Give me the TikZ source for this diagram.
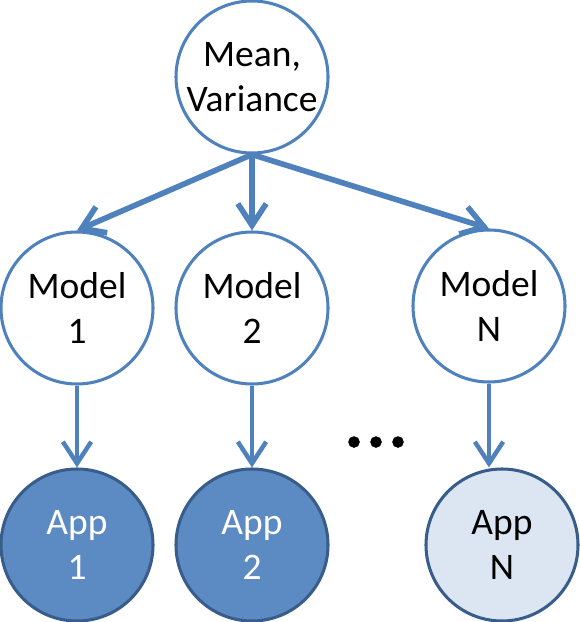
\documentclass[tikz,border=0pt]{standalone}
\usepackage{fontspec}
\setmainfont{Carlito}
\usetikzlibrary{arrows.meta}
\definecolor{lineblue}{RGB}{79,129,189}
\definecolor{appblue}{RGB}{92,138,194}
\definecolor{appedge}{RGB}{56,93,138}
\definecolor{applight}{RGB}{220,230,242}
\tikzset{bubble/.style={circle,minimum size=4.56cm,inner sep=0pt,line width=2.6pt,align=center,font=\fontsize{32}{38.5}\selectfont}}
\tikzset{model/.style={bubble,draw=lineblue,fill=white}}
\tikzset{appdark/.style={bubble,draw=appedge,fill=appblue,text=white}}
\tikzset{applite/.style={bubble,draw=appedge,fill=applight}}
\tikzset{arr/.style={draw=lineblue,line width=3.8pt,-{Straight Barb[length=0.65cm,width=0.85cm]}}}

\begin{document}
\begin{tikzpicture}[x=0.03cm,y=-0.03cm]
	\useasboundingbox (0,0) rectangle (579,622);
	% define the nodes at pixel coordinates
	\node [model] (mv) at (252,77) {Mean,\\Variance};
	\node [model] (m1) at (77,308) {Model\\1};
	\node [model] (m2) at (252,308) {Model\\2};
	\node [model] (mN) at (489,306) {Model\\N};
	\node [appdark] (a1) at (77,545) {App\\1};
	\node [appdark] (a2) at (252,545) {App\\2};
	\node [applite] (aN) at (502,545) {App\\N};

	\draw [arr,line width=4.8pt] (mv.south) -- (m1.north);
	\draw [arr,line width=4.8pt] (mv.south) -- (m2.north);
	\draw [arr,line width=4.8pt] (mv.south) -- (mN.north);
	\draw [arr] (m1.south) -- (a1.north);
	\draw [arr] (m2.south) -- (a2.north);
	\draw [arr] (mN.south) -- (mN.south |- aN.north);

	% the dots between the columns
	\foreach \x in {354,376,398}
		\filldraw [black] (\x,442) circle [radius=5.5];
\end{tikzpicture}
\end{document}
